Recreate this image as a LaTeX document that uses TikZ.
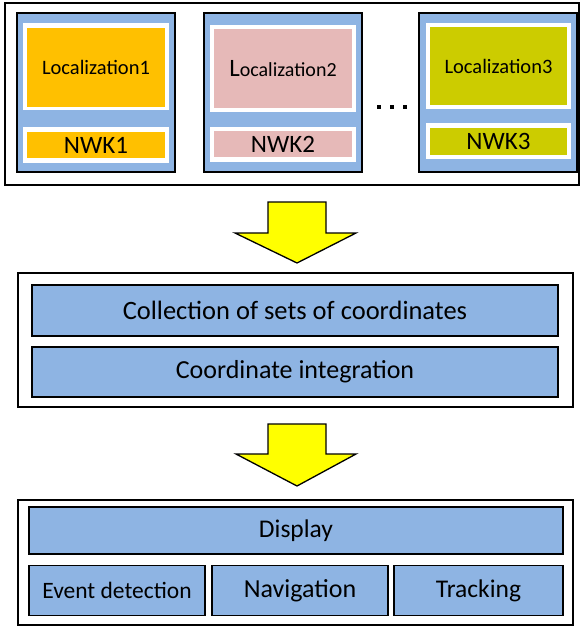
\documentclass[tikz,border=0pt]{standalone}
\usepackage{fontspec}
\setmainfont{Carlito}
\definecolor{boxblue}{RGB}{142,180,227}
\definecolor{locorange}{RGB}{255,192,0}
\definecolor{locpink}{RGB}{230,185,184}
\definecolor{locolive}{RGB}{204,204,0}
\definecolor{arrowyellow}{RGB}{255,255,0}
\tikzset{
  frame/.style={draw=black, line width=1.6pt, fill=white, inner sep=0pt},
  module/.style={draw=black, line width=2pt, fill=boxblue, inner sep=0pt},
  whitebox/.style={draw=none, fill=white, inner sep=0pt},
  colbox/.style={draw=none, inner sep=0pt, text=black},
  bluebox/.style={draw=black, line width=1.6pt, fill=boxblue, inner sep=0pt, text=black},
  blockarrow/.style={draw=black, line width=1.3pt, fill=arrowyellow, line join=miter},
  dot/.style={fill=black, inner sep=0pt, minimum size=4pt}
}
\begin{document}
\begin{tikzpicture}[x=1pt,y=-1pt]
\useasboundingbox (0,0) rectangle (581,626);
% top frame
\node[frame, minimum width=574pt, minimum height=182pt] (top) at (292,94) {};
% module 1
\node[module, minimum width=158pt, minimum height=159pt] (m1) at (96,92.5) {};
\node[whitebox, minimum width=146pt, minimum height=87pt] (w1a) at (96,66.5) {};
\node[colbox, fill=locorange, minimum width=138pt, minimum height=78pt, font=\fontsize{20.5}{22}\selectfont] (loc1) at (96,67.5) {Localization1};
\node[whitebox, minimum width=146pt, minimum height=36pt] (w1b) at (96,145) {};
\node[colbox, fill=locorange, minimum width=138pt, minimum height=26pt, font=\fontsize{25}{28}\selectfont] (nwk1) at (96,145) {NWK1};
% module 2
\node[module, minimum width=158pt, minimum height=159pt] (m2) at (283,92.5) {};
\node[whitebox, minimum width=146pt, minimum height=87pt] (w2a) at (283,68.5) {};
\node[colbox, fill=locpink, minimum width=138pt, minimum height=79pt, font=\fontsize{20}{22}\selectfont] (loc2) at (283,68.5) {{\fontsize{25}{26}\selectfont L}ocalization2};
\node[whitebox, minimum width=146pt, minimum height=35pt] (w2b) at (283,144.5) {};
\node[colbox, fill=locpink, minimum width=138pt, minimum height=26pt, font=\fontsize{25}{28}\selectfont] (nwk2) at (283,144) {NWK2};
% module 3
\node[module, minimum width=158pt, minimum height=159pt] (m3) at (498,92.5) {};
\node[whitebox, minimum width=145pt, minimum height=86pt] (w3a) at (498.5,66) {};
\node[colbox, fill=locolive, minimum width=137pt, minimum height=78pt, font=\fontsize{20.5}{22}\selectfont] (loc3) at (498.5,66) {Localization3};
\node[whitebox, minimum width=145pt, minimum height=36pt] (w3b) at (498.5,141) {};
\node[colbox, fill=locolive, minimum width=137pt, minimum height=27pt, font=\fontsize{25}{28}\selectfont] (nwk3) at (498.5,141.5) {NWK3};
% dots
\node[dot] (d1) at (379,107) {};
\node[dot] (d2) at (392,107) {};
\node[dot] (d3) at (405,107) {};
% arrow 1
\draw[blockarrow] (268,202) -- (326,202) -- (326,233) -- (356,233) -- (297,263) -- (235,233) -- (268,233) -- cycle;
% middle frame
\node[frame, minimum width=555pt, minimum height=134pt] (mid) at (295.5,340) {};
\node[bluebox, minimum width=526pt, minimum height=51pt, font=\fontsize{26.5}{28}\selectfont] (coll) at (295,310.5) {Collection of sets of coordinates};
\node[bluebox, minimum width=526pt, minimum height=50pt, font=\fontsize{26}{28}\selectfont] (integ) at (295,372) {Coordinate integration};
% arrow 2
\draw[blockarrow] (268,424) -- (326,424) -- (326,454) -- (356,454) -- (297,486) -- (236,454) -- (268,454) -- cycle;
% bottom frame
\node[frame, minimum width=555pt, minimum height=125pt] (bot) at (295.5,562.5) {};
\node[bluebox, minimum width=534pt, minimum height=47pt, font=\fontsize{25.5}{28}\selectfont] (disp) at (296,530.5) {Display};
\node[bluebox, minimum width=176pt, minimum height=50pt, font=\fontsize{23.5}{26}\selectfont] (event) at (117,590.5) {Event detection};
\node[bluebox, minimum width=176pt, minimum height=50pt, font=\fontsize{26}{28}\selectfont] (nav) at (300,590.5) {Navigation};
\node[bluebox, minimum width=169pt, minimum height=50pt, font=\fontsize{25.5}{28}\selectfont] (track) at (478.5,590.5) {Tracking};
\end{tikzpicture}
\end{document}
